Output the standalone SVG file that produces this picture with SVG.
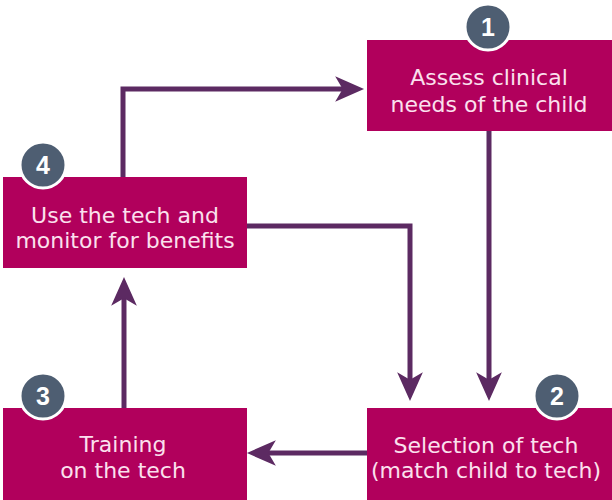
<svg xmlns="http://www.w3.org/2000/svg" width="612" height="500" viewBox="0 0 612 500">
  <style>
    .box { fill: #b1005c; }
    .lbl { font-family: "DejaVu Sans", "Liberation Sans", sans-serif; font-size: 22px; fill: #fbe0ee; text-anchor: middle; }
    .badge { fill: #4e5e72; stroke: #ffffff; stroke-width: 3; }
    .num { font-family: "Liberation Sans", Arial, sans-serif; font-size: 25px; font-weight: bold; fill: #ffffff; text-anchor: middle; }
    .conn { fill: none; stroke: #5c2a62; stroke-width: 5; stroke-linejoin: miter; }
  </style>
  <defs>
    <marker id="ah" markerUnits="userSpaceOnUse" markerWidth="30" markerHeight="26" viewBox="0 0 28 24" refX="12" refY="12" orient="auto">
      <path d="M0,0 L27,12 L0,24 L7,12 Z" fill="#5c2a62"/>
    </marker>
  </defs>
  <rect width="612" height="500" fill="#ffffff"/>

  <g id="connectors">
    <path class="conn" d="M123,177 L123,89 L348,89" marker-end="url(#ah)"/>
    <path class="conn" d="M489,131 L489,385" marker-end="url(#ah)"/>
    <path class="conn" d="M247,226 L410,226 L410,385" marker-end="url(#ah)"/>
    <path class="conn" d="M367,453 L263,453" marker-end="url(#ah)"/>
    <path class="conn" d="M124,408 L124,293" marker-end="url(#ah)"/>
  </g>

  <g id="node1">
    <rect class="box" x="367" y="40" width="245" height="91"/>
    <circle class="badge" cx="488" cy="27" r="23"/>
    <text class="num" x="488" y="36">1</text>
    <text class="lbl" x="489" y="85">Assess clinical</text>
    <text class="lbl" x="489" y="112">needs of the child</text>
  </g>

  <g id="node2">
    <rect class="box" x="367" y="408" width="245" height="92"/>
    <circle class="badge" cx="557" cy="396" r="23"/>
    <text class="num" x="557" y="405">2</text>
    <text class="lbl" x="486" y="453">Selection of tech</text>
    <text class="lbl" x="486" y="478">(match child to tech)</text>
  </g>

  <g id="node3">
    <rect class="box" x="3" y="408" width="244" height="92"/>
    <circle class="badge" cx="43" cy="396" r="23"/>
    <text class="num" x="43" y="405">3</text>
    <text class="lbl" x="123" y="452">Training</text>
    <text class="lbl" x="123" y="478">on the tech</text>
  </g>

  <g id="node4">
    <rect class="box" x="3" y="177" width="244" height="91"/>
    <circle class="badge" cx="43" cy="165" r="23"/>
    <text class="num" x="43" y="174">4</text>
    <text class="lbl" x="125" y="223">Use the tech and</text>
    <text class="lbl" x="125" y="248">monitor for benefits</text>
  </g>
</svg>
